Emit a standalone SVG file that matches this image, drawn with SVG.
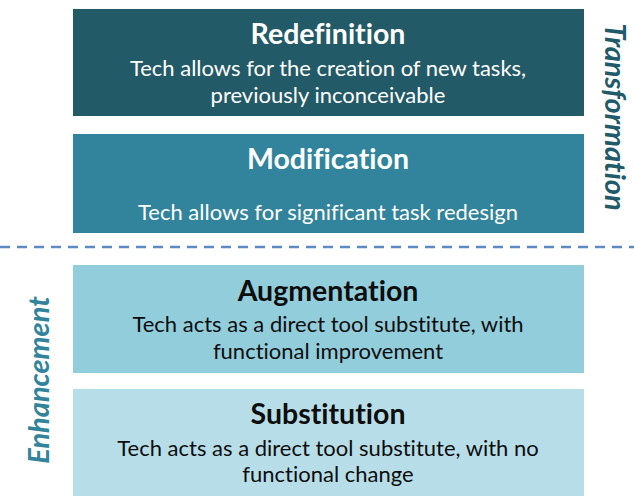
<svg xmlns="http://www.w3.org/2000/svg" width="634" height="496" viewBox="0 0 634 496">
  <style>
    text { font-family: Lato, "Open Sans", sans-serif; text-anchor: middle; font-variant-ligatures: none; }
    .title { font-size: 28.5px; font-weight: bold; }
    .desc { font-size: 22px; }
    .light { fill: #ffffff; }
    .dark { fill: #0d0d0d; }
    .side { font-size: 29px; font-weight: bold; font-style: italic; }
  </style>
  <rect width="634" height="496" fill="#ffffff"/>

  <g id="redefinition">
    <rect x="73" y="9" width="511" height="107" fill="#225a68"/>
    <text class="title light" x="328" y="44">Redefinition</text>
    <text class="desc light" x="328" y="76">Tech allows for the creation of new tasks,</text>
    <text class="desc light" x="328" y="103">previously inconceivable</text>
  </g>

  <g id="modification">
    <rect x="73" y="134" width="511" height="99" fill="#31849b"/>
    <text class="title light" x="328" y="169">Modification</text>
    <text class="desc light" x="328" y="220">Tech allows for significant task redesign</text>
  </g>

  <g id="augmentation">
    <rect x="73" y="265" width="511" height="108" fill="#92cddc"/>
    <text class="title dark" x="328" y="301">Augmentation</text>
    <text class="desc dark" x="328" y="332">Tech acts as a direct tool substitute, with</text>
    <text class="desc dark" x="328" y="359">functional improvement</text>
  </g>

  <g id="substitution">
    <rect x="73" y="389" width="511" height="107" fill="#b7dee8"/>
    <text class="title dark" x="328" y="424">Substitution</text>
    <text class="desc dark" x="328" y="456">Tech acts as a direct tool substitute, with no</text>
    <text class="desc dark" x="328" y="482">functional change</text>
  </g>

  <g id="connectors">
    <line x1="0" y1="247" x2="634" y2="247" stroke="#5b8ac6" stroke-width="2.5" stroke-dasharray="10 7"/>
  </g>

  <g id="labels">
    <text class="side" fill="#215a69" transform="translate(605 117) rotate(90)">Transformation</text>
    <text class="side" fill="#31849b" transform="translate(49 380) rotate(-90)">Enhancement</text>
  </g>
</svg>
